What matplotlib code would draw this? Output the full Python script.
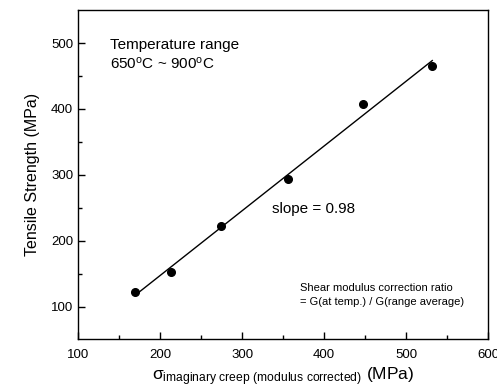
import numpy as np
import matplotlib
matplotlib.use("Agg")
import matplotlib.pyplot as plt

plt.rcParams['font.family'] = ['Liberation Sans', 'DejaVu Sans']
plt.rcParams['mathtext.fontset'] = 'custom'
plt.rcParams['mathtext.rm'] = 'Liberation Sans'
plt.rcParams['mathtext.it'] = 'Liberation Sans'

# Data
stress = [170, 213, 274, 356, 448, 532]
tensile = [122, 152, 223, 293, 407, 465]
xticks = [100, 200, 300, 400, 500, 600]
yticks = [100, 200, 300, 400, 500]

# Linear fit
slope, intercept = np.polyfit(stress, tensile, 1)
xfit = np.array([min(stress), max(stress)])

fig = plt.figure(figsize=(4.97, 3.92), dpi=100)
ax = fig.add_axes([0.157, 0.134, 0.825, 0.840])

ax.plot(xfit, slope * xfit + intercept, color="black", lw=1)
ax.plot(stress, tensile, "o", color="black", markersize=5.5)

ax.set_xlim(100, 600)
ax.set_ylim(50, 550)
ax.set_xticks(xticks)
ax.set_yticks(yticks)
ax.set_xticks([150, 250, 350, 450, 550], minor=True)
ax.set_yticks([150, 250, 350, 450], minor=True)
ax.tick_params(which="both", direction="in", top=False, right=False, labelsize=9.5)
ax.tick_params(which="major", length=5, width=1)
ax.tick_params(which="minor", length=3, width=1)
ax.tick_params(axis="x", pad=7)
for s in ax.spines.values():
    s.set_linewidth(1)

ax.set_ylabel("Tensile Strength (MPa)", fontsize=11.5, labelpad=8)
ax.set_xlabel(r"$\sigma_{\mathrm{imaginary\ creep\ (modulus\ corrected)}}$ (MPa)",
              fontsize=12.5, labelpad=3)

ax.text(0.078, 0.915, "Temperature range\n650$^\\mathrm{o}$C ~ 900$^\\mathrm{o}$C",
        transform=ax.transAxes, fontsize=11, va="top", ha="left", linespacing=1.3)
ax.text(0.472, 0.396, "slope = 0.98", transform=ax.transAxes,
        fontsize=11, va="center", ha="left")
ax.text(0.541, 0.135, "Shear modulus correction ratio\n= G(at temp.) / G(range average)",
        transform=ax.transAxes, fontsize=8, va="center", ha="left", linespacing=1.4)

fig.savefig("out.png", dpi=100)
